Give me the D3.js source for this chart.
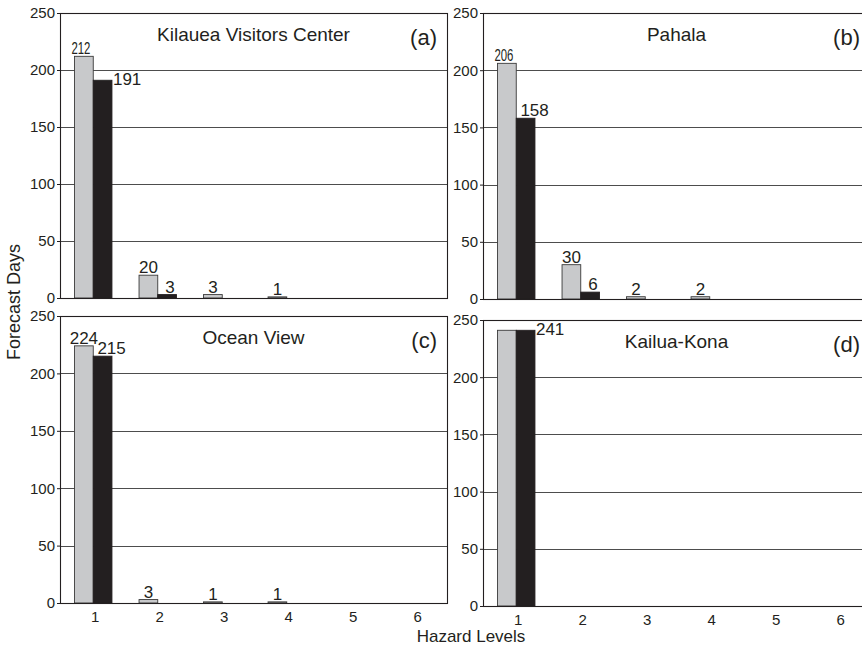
<!DOCTYPE html>
<html>
<head>
<meta charset="utf-8">
<script src="https://cdn.jsdelivr.net/npm/d3@7/dist/d3.min.js"></script>
<style>
  html, body { margin: 0; padding: 0; background: #fff; }
  svg { display: block; font-family: "Liberation Sans", Arial, Helvetica, sans-serif; }
</style>
</head>
<body>
<svg id="chart" width="862" height="646"></svg>
<script>
// Hazard levels on the x axis
const levels = [1, 2, 3, 4, 5, 6];
const yTicks = [0, 50, 100, 150, 200, 250];

// Station names and panel tags
const stations = ["Kilauea Visitors Center", "Pahala", "Ocean View", "Kailua-Kona"];
const panelTags = ["(a)", "(b)", "(c)", "(d)"];

// Forecast days per hazard level: light (grey) and dark (black) series
const kilaueaLight = [212, 20, 3, 1, 0, 0];
const kilaueaDark  = [191, 3, 0, 0, 0, 0];
const pahalaLight  = [206, 30, 2, 2, 0, 0];
const pahalaDark   = [158, 6, 0, 0, 0, 0];
const oceanLight   = [224, 3, 1, 1, 0, 0];
const oceanDark    = [215, 0, 0, 0, 0, 0];
const konaLight    = [241, 0, 0, 0, 0, 0];
const konaDark     = [241, 0, 0, 0, 0, 0];

const lightSeries = [kilaueaLight, pahalaLight, oceanLight, konaLight];
const darkSeries  = [kilaueaDark, pahalaDark, oceanDark, konaDark];

// Panel frames and label placement
const panelWidth = 387;
const frames = [
  { left: 60,  top: 13,  bottom: 298, xLabels: false, darkBeside: true,  squeeze: true },
  { left: 483, top: 13,  bottom: 299, xLabels: false, darkBeside: false, squeeze: true },
  { left: 60,  top: 316, bottom: 603, xLabels: true,  darkBeside: false, squeeze: false },
  { left: 483, top: 320, bottom: 606, xLabels: true,  darkBeside: true,  squeeze: false }
];

const ink = "#231f20";
const lightFill = "#c8c9cb";

const svg = d3.select("#chart");
svg.append("rect").attr("width", 862).attr("height", 646).attr("fill", "#fff");

frames.forEach((f, i) => {
  const right = f.left + panelWidth;
  const g = svg.append("g");

  const x0 = d3.scaleBand()
    .domain(levels)
    .range([f.left + 1, right + 1])
    .paddingInner(0.42)
    .paddingOuter(0.21);
  const x1 = d3.scaleBand()
    .domain(["light", "dark"])
    .range([0, x0.bandwidth()]);
  const y = d3.scaleLinear().domain([0, 250]).range([f.bottom, f.top]);

  // horizontal grid lines
  g.selectAll("line.grid")
    .data(yTicks.filter(t => t > 0 && t < 250))
    .join("line")
    .attr("class", "grid")
    .attr("x1", f.left).attr("x2", right)
    .attr("y1", d => Math.round(y(d)) + 0.5)
    .attr("y2", d => Math.round(y(d)) + 0.5)
    .attr("stroke", "#4d4d4d")
    .attr("stroke-width", 1.1);

  // y axis with short outward ticks
  const yAxis = d3.axisLeft(y).tickValues(yTicks).tickSize(3).tickPadding(2);
  const ya = g.append("g").attr("transform", `translate(${f.left},0)`).call(yAxis);
  ya.select(".domain").remove();
  ya.selectAll(".tick line").attr("stroke", ink);
  ya.selectAll(".tick text")
    .attr("fill", ink)
    .style("font-size", "15px")
    .style("font-family", "'Liberation Sans', Arial, sans-serif");

  // bars
  const rows = levels.map((lv, k) => ({ level: lv, light: lightSeries[i][k], dark: darkSeries[i][k] }));
  const barData = [];
  rows.forEach(r => {
    if (r.light > 0) barData.push({ level: r.level, key: "light", v: r.light });
    if (r.dark > 0) barData.push({ level: r.level, key: "dark", v: r.dark });
  });

  g.selectAll("rect.bar")
    .data(barData)
    .join("rect")
    .attr("class", "bar")
    .attr("x", d => x0(d.level) + x1(d.key))
    .attr("width", x1.bandwidth())
    .attr("y", d => y(d.v))
    .attr("height", d => f.bottom - y(d.v))
    .attr("fill", d => d.key === "light" ? lightFill : ink)
    .attr("stroke", d => d.key === "light" ? "#3a3a3a" : ink)
    .attr("stroke-width", 0.9);

  // value labels
  rows.forEach((r, k) => {
    const lx = x0(r.level) + x1("light") + x1.bandwidth() / 2;
    const dx = x0(r.level) + x1("dark") + x1.bandwidth() / 2;
    const showLight = r.light > 0 && r.light !== r.dark;
    if (showLight) {
      const txt = String(r.light);
      const tight = f.squeeze && txt.length > 2;
      const t = g.append("text")
        .attr("x", tight ? lx - 3 : lx)
        .attr("y", y(r.light) - 2)
        .attr("text-anchor", "middle")
        .attr("fill", ink)
        .style("font-size", "17px")
        .text(txt);
      if (tight) {
        t.attr("textLength", 19).attr("lengthAdjust", "spacingAndGlyphs");
      }
    }
    if (r.dark > 0) {
      const txt = String(r.dark);
      if (f.darkBeside && k === 0) {
        // tallest dark bar: label sits beside the bar top
        g.append("text")
          .attr("x", x0(r.level) + x1("dark") + x1.bandwidth() + 1)
          .attr("y", y(r.dark) + 5)
          .attr("text-anchor", "start")
          .attr("fill", ink)
          .style("font-size", "17px")
          .text(txt);
      } else {
        g.append("text")
          .attr("x", dx + 3 * txt.length)
          .attr("y", y(r.dark) - 2)
          .attr("text-anchor", "middle")
          .attr("fill", ink)
          .style("font-size", "17px")
          .text(txt);
      }
    }
  });

  // panel frame
  g.append("rect")
    .attr("x", f.left + 0.5).attr("y", Math.round(f.top) + 0.5)
    .attr("width", panelWidth).attr("height", f.bottom - Math.round(f.top))
    .attr("fill", "none")
    .attr("stroke", ink)
    .attr("stroke-width", 1.1);

  // station title and panel tag
  g.append("text")
    .attr("x", f.left + panelWidth / 2)
    .attr("y", f.top + 28)
    .attr("text-anchor", "middle")
    .attr("fill", ink)
    .style("font-size", "19px")
    .text(stations[i]);
  g.append("text")
    .attr("x", right - 10)
    .attr("y", f.top + 32)
    .attr("text-anchor", "end")
    .attr("fill", ink)
    .style("font-size", "22px")
    .text(panelTags[i]);

  // x tick labels on the bottom row
  if (f.xLabels) {
    g.selectAll("text.xl")
      .data(levels)
      .join("text")
      .attr("class", "xl")
      .attr("x", d => x0(d) + x0.bandwidth() / 2 + 2)
      .attr("y", f.bottom + 19)
      .attr("text-anchor", "middle")
      .attr("fill", ink)
      .style("font-size", "15px")
      .text(d => d);
  }
});

// shared axis titles
svg.append("text")
  .attr("x", 471)
  .attr("y", 642)
  .attr("text-anchor", "middle")
  .attr("fill", ink)
  .style("font-size", "17px")
  .text("Hazard Levels");

svg.append("text")
  .attr("transform", "translate(19.5,302) rotate(-90)")
  .attr("text-anchor", "middle")
  .attr("fill", ink)
  .style("font-size", "18px")
  .text("Forecast Days");
</script>
</body>
</html>
